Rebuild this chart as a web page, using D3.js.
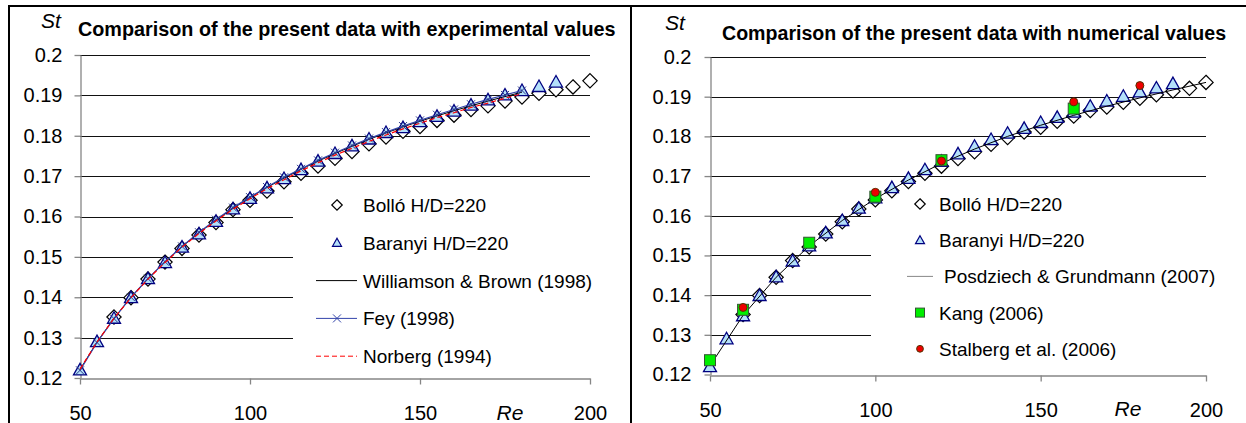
<!DOCTYPE html>
<html lang="en">
<head>
<meta charset="utf-8">
<title>Strouhal number comparison</title>
<script src="https://cdn.jsdelivr.net/npm/d3@7"></script>
<style>
  body { margin: 0; background: #fff; }
  svg { display: block; font-family: "Liberation Sans", Arial, sans-serif; }
</style>
</head>
<body>
<div id="chart"></div>
<script>
// ---- data ----
var xTicks = [50, 100, 150, 200];
var yTicks = [0.12, 0.13, 0.14, 0.15, 0.16, 0.17, 0.18, 0.19, 0.2];
var yTickLabels = ["0.12", "0.13", "0.14", "0.15", "0.16", "0.17", "0.18", "0.19", "0.2"];

// Bolló H/D=220 (diamonds)
var reBollo = [60, 65, 70, 75, 80, 85, 90, 95, 100, 105, 110, 115, 120, 125, 130,
               135, 140, 145, 150, 155, 160, 165, 170, 175, 180, 185, 190, 195, 200];
var stBollo = [0.1351, 0.1399, 0.1445, 0.1487, 0.1521, 0.1554, 0.1585, 0.1617, 0.1640, 0.1663,
               0.1686, 0.1707, 0.1725, 0.1744, 0.1761, 0.1780, 0.1797, 0.1811, 0.1823, 0.1838,
               0.1851, 0.1865, 0.1874, 0.1886, 0.1896, 0.1905, 0.1914, 0.1921, 0.1936];

// Baranyi H/D=220 (triangles)
var reBaranyi = [50, 55, 60, 65, 70, 75, 80, 85, 90, 95, 100, 105, 110, 115, 120,
                 125, 130, 135, 140, 145, 150, 155, 160, 165, 170, 175, 180, 185, 190];
var stBaranyi = [0.1220, 0.1290, 0.1348, 0.1399, 0.1446, 0.1486, 0.1524, 0.1557, 0.1588, 0.1619,
                 0.1645, 0.1671, 0.1694, 0.1716, 0.1737, 0.1756, 0.1775, 0.1792, 0.1808, 0.1820,
                 0.1835, 0.1848, 0.1861, 0.1876, 0.1889, 0.1901, 0.1912, 0.1922, 0.1933];

// literature curves, left panel
var reLit = [50, 55, 60, 65, 70, 75, 80, 85, 90, 95, 100, 105, 110, 115,
             120, 125, 130, 135, 140, 145, 150, 155, 160, 165, 170, 175, 180];
var stWilliamson = [0.1221, 0.1289, 0.1348, 0.1400, 0.1446, 0.1487, 0.1525, 0.1560, 0.1591, 0.1620,
                    0.1647, 0.1672, 0.1695, 0.1717, 0.1737, 0.1756, 0.1774, 0.1791, 0.1807, 0.1822,
                    0.1836, 0.1849, 0.1862, 0.1874, 0.1886, 0.1897, 0.1908];
var stFey = [0.1219, 0.1288, 0.1347, 0.1400, 0.1446, 0.1488, 0.1526, 0.1561, 0.1592, 0.1622,
             0.1648, 0.1673, 0.1697, 0.1718, 0.1739, 0.1758, 0.1776, 0.1793, 0.1809, 0.1824,
             0.1838, 0.1852, 0.1865, 0.1878, 0.1890, 0.1901, 0.1912];
var stNorberg = [0.1222, 0.1289, 0.1348, 0.1399, 0.1445, 0.1486, 0.1524, 0.1558, 0.1589, 0.1618,
                 0.1644, 0.1669, 0.1691, 0.1713, 0.1733, 0.1752, 0.1769, 0.1786, 0.1802, 0.1817,
                 0.1831, 0.1845, 0.1857, 0.1870, 0.1881, 0.1893, 0.1904];

// numerical results, right panel
var rePosdziech = [50, 60, 70, 80, 90, 100, 110, 120, 130, 140, 150, 160, 170, 180, 190, 200];
var stPosdziech = [0.1222, 0.1349, 0.1445, 0.1524, 0.1588, 0.1643, 0.1690, 0.1732, 0.1768, 0.1800,
                   0.1828, 0.1853, 0.1876, 0.1897, 0.1917, 0.1936];
var reKang = [50, 60, 80, 100, 120, 160];
var stKang = [0.1236, 0.1363, 0.1532, 0.1648, 0.1740, 0.1870];
var reStalberg = [60, 100, 120, 160, 180];
var stStalberg = [0.1369, 0.1659, 0.1738, 0.1887, 0.1928];

function pts(re, st) {
  return re.map(function (r, i) { return { x: r, y: st[i] }; });
}

var W = 1246, H = 423;
var svg = d3.select("#chart").append("svg").attr("width", W).attr("height", H);

// outer frame lines (cropped boxes)
svg.append("line").attr("x1", 8).attr("x2", W).attr("y1", 6).attr("y2", 6)
  .attr("stroke", "#000").attr("stroke-width", 2);
svg.append("line").attr("x1", 9).attr("x2", 9).attr("y1", 5).attr("y2", H)
  .attr("stroke", "#000").attr("stroke-width", 2);
svg.append("line").attr("x1", 631).attr("x2", 631).attr("y1", 5).attr("y2", H)
  .attr("stroke", "#000").attr("stroke-width", 2);

var symDiamond = d3.symbol().type(d3.symbolDiamond2).size(130);
var symDiamondSmall = d3.symbol().type(d3.symbolDiamond2).size(70);
var triPath = "M0,-6.5L6.5,5L-6.5,5Z";
var triSmall = "M0,-4.5L4.5,3.5L-4.5,3.5Z";
var xPath = "M-4,-4L4,4M-4,4L4,-4";

function drawPanel(p) {
  var x = d3.scaleLinear().domain([50, 200]).range([p.x0, p.x1]);
  var y = d3.scaleLinear().domain([0.12, 0.2]).range([p.y0, p.y1]);
  var g = svg.append("g");

  // gridlines
  g.selectAll(".grid").data(yTicks.slice(1)).enter().append("line")
    .attr("x1", p.x0).attr("x2", p.x1)
    .attr("y1", function (d) { return Math.round(y(d)) + 0.5; })
    .attr("y2", function (d) { return Math.round(y(d)) + 0.5; })
    .attr("stroke", "#111").attr("stroke-width", 1);

  // axes
  var yAxis = d3.axisLeft(y).tickValues(yTicks)
    .tickFormat(function (d, i) { return yTickLabels[i]; })
    .tickSize(6).tickSizeOuter(0).tickPadding(p.yPad);
  var xAxis = d3.axisBottom(x).tickValues(xTicks).tickFormat(d3.format("d"))
    .tickSize(6).tickSizeOuter(0).tickPadding(21);
  var ya = g.append("g").attr("transform", "translate(" + (Math.round(p.x0) + 0.5) + ",0)").call(yAxis);
  var xa = g.append("g").attr("transform", "translate(0," + (Math.round(p.y0) + 0.5) + ")").call(xAxis);
  [ya, xa].forEach(function (a) {
    a.select(".domain").attr("stroke", "#868686").attr("stroke-width", 1.3);
    a.selectAll(".tick line").attr("stroke", "#868686").attr("stroke-width", 1.3);
    a.selectAll("text").attr("font-size", 20).attr("fill", "#000")
      .attr("font-family", "Liberation Sans, Arial, sans-serif");
  });

  // legend background hides gridlines behind it
  g.append("rect").attr("x", p.lg.bx).attr("y", p.lg.by).attr("width", p.lg.bw).attr("height", p.lg.bh)
    .attr("fill", "#fff");

  // axis titles + chart title
  g.append("text").attr("x", p.stX).attr("y", p.stY).attr("font-size", 21)
    .attr("font-style", "italic").attr("text-anchor", "middle").text("St");
  g.append("text").attr("x", p.reX).attr("y", p.y0 + 41.5).attr("font-size", 21)
    .attr("font-style", "italic").attr("text-anchor", "middle").text("Re");
  g.append("text").attr("x", p.tX).attr("y", p.tY).attr("font-size", p.tSize)
    .attr("font-weight", "bold").text(p.title);

  // markers
  g.selectAll(".bollo").data(pts(reBollo, stBollo)).enter().append("path")
    .attr("d", symDiamond)
    .attr("transform", function (d) { return "translate(" + x(d.x) + "," + y(d.y) + ")"; })
    .attr("fill", "#fff").attr("stroke", "#000").attr("stroke-width", 1.2);
  g.selectAll(".baranyi").data(pts(reBaranyi, stBaranyi)).enter().append("path")
    .attr("d", triPath)
    .attr("transform", function (d) { return "translate(" + x(d.x) + "," + y(d.y) + ")"; })
    .attr("fill", "#b4e0fa").attr("stroke", "#000080").attr("stroke-width", 1.3);

  var line = d3.line().x(function (d) { return x(d.x); }).y(function (d) { return y(d.y); });
  p.series(g, x, y, line);

  // legend entries
  var lg = p.lg;
  lg.items.forEach(function (it, i) {
    var cy = lg.y0 + i * lg.dy;
    var mx = lg.mx;
    if (it.kind === "diamond") {
      g.append("path").attr("d", symDiamondSmall).attr("transform", "translate(" + mx + "," + cy + ")")
        .attr("fill", "#fff").attr("stroke", "#000").attr("stroke-width", 1.2);
    } else if (it.kind === "triangle") {
      g.append("path").attr("d", triSmall).attr("transform", "translate(" + mx + "," + cy + ")")
        .attr("fill", "#b4e0fa").attr("stroke", "#000080").attr("stroke-width", 1.2);
    } else if (it.kind === "square") {
      g.append("rect").attr("x", mx - 4.5).attr("y", cy - 4.5).attr("width", 9).attr("height", 9)
        .attr("fill", "#00ee00").attr("stroke", "#335533");
    } else if (it.kind === "circle") {
      g.append("circle").attr("cx", mx).attr("cy", cy).attr("r", 3.4)
        .attr("fill", "#ee0000").attr("stroke", "#553300");
    } else {
      g.append("line").attr("x1", it.l0).attr("x2", it.l1).attr("y1", cy).attr("y2", cy)
        .attr("stroke", it.color).attr("stroke-width", it.w || 1)
        .attr("stroke-dasharray", it.dash || null);
      if (it.kind === "xline") {
        g.append("path").attr("d", xPath).attr("transform", "translate(" + mx + "," + cy + ")")
          .attr("stroke", it.color).attr("fill", "none");
      }
    }
    g.append("text").attr("x", it.tx || lg.tx).attr("y", cy + 7).attr("font-size", 19).text(it.label);
  });
}

// left panel: experimental values
drawPanel({
  x0: 80, x1: 590, y0: 378, y1: 55, yPad: 12,
  stX: 51, stY: 28, reX: 510, tX: 78, tY: 36, tSize: 19.8,
  title: "Comparison of the present data with experimental values",
  series: function (g, x, y, line) {
    g.append("path").datum(pts(reLit, stWilliamson)).attr("d", line)
      .attr("fill", "none").attr("stroke", "#000").attr("stroke-width", 1);
    g.append("path").datum(pts(reLit, stFey)).attr("d", line)
      .attr("fill", "none").attr("stroke", "#3344aa").attr("stroke-width", 1.2);
    g.selectAll(".fey").data(pts(reLit, stFey)).enter().append("path")
      .attr("d", xPath)
      .attr("transform", function (d) { return "translate(" + x(d.x) + "," + y(d.y) + ")"; })
      .attr("stroke", "#2a3a8a").attr("fill", "none");
    g.append("path").datum(pts(reLit, stNorberg)).attr("d", line)
      .attr("fill", "none").attr("stroke", "#ff0000").attr("stroke-width", 1.2)
      .attr("stroke-dasharray", "5,3");
  },
  lg: {
    bx: 293, by: 186, bw: 312, bh: 186, y0: 205, dy: 37.8, mx: 337, tx: 363,
    items: [
      { kind: "diamond", label: "Bolló H/D=220" },
      { kind: "triangle", label: "Baranyi H/D=220" },
      { kind: "line", label: "Williamson & Brown (1998)", color: "#000", l0: 316, l1: 357 },
      { kind: "xline", label: "Fey (1998)", color: "#3344aa", l0: 316, l1: 357 },
      { kind: "line", label: "Norberg (1994)", color: "#ff0000", l0: 316, l1: 357, dash: "5,3" }
    ]
  }
});

// right panel: numerical values
drawPanel({
  x0: 710, x1: 1206, y0: 374.5, y1: 57, yPad: 13,
  stX: 675, stY: 30, reX: 1128, tX: 722, tY: 40, tSize: 19.6,
  title: "Comparison of the present data with numerical values",
  series: function (g, x, y, line) {
    g.append("path").datum(pts(rePosdziech, stPosdziech)).attr("d", line)
      .attr("fill", "none").attr("stroke", "#000").attr("stroke-width", 1);
    g.selectAll(".kang").data(pts(reKang, stKang)).enter().append("rect")
      .attr("x", function (d) { return x(d.x) - 5.5; })
      .attr("y", function (d) { return y(d.y) - 5.5; })
      .attr("width", 11).attr("height", 11)
      .attr("fill", "#00ee00").attr("stroke", "#335533");
    g.selectAll(".stalberg").data(pts(reStalberg, stStalberg)).enter().append("circle")
      .attr("cx", function (d) { return x(d.x); })
      .attr("cy", function (d) { return y(d.y); })
      .attr("r", 4).attr("fill", "#ee0000").attr("stroke", "#553300");
  },
  lg: {
    bx: 871, by: 186, bw: 350, bh: 182, y0: 204, dy: 36.2, mx: 920, tx: 939,
    items: [
      { kind: "diamond", label: "Bolló H/D=220" },
      { kind: "triangle", label: "Baranyi H/D=220" },
      { kind: "line", label: "Posdziech & Grundmann (2007)", color: "#888", l0: 907, l1: 933, tx: 944 },
      { kind: "square", label: "Kang (2006)" },
      { kind: "circle", label: "Stalberg et al. (2006)" }
    ]
  }
});
</script>
</body>
</html>
